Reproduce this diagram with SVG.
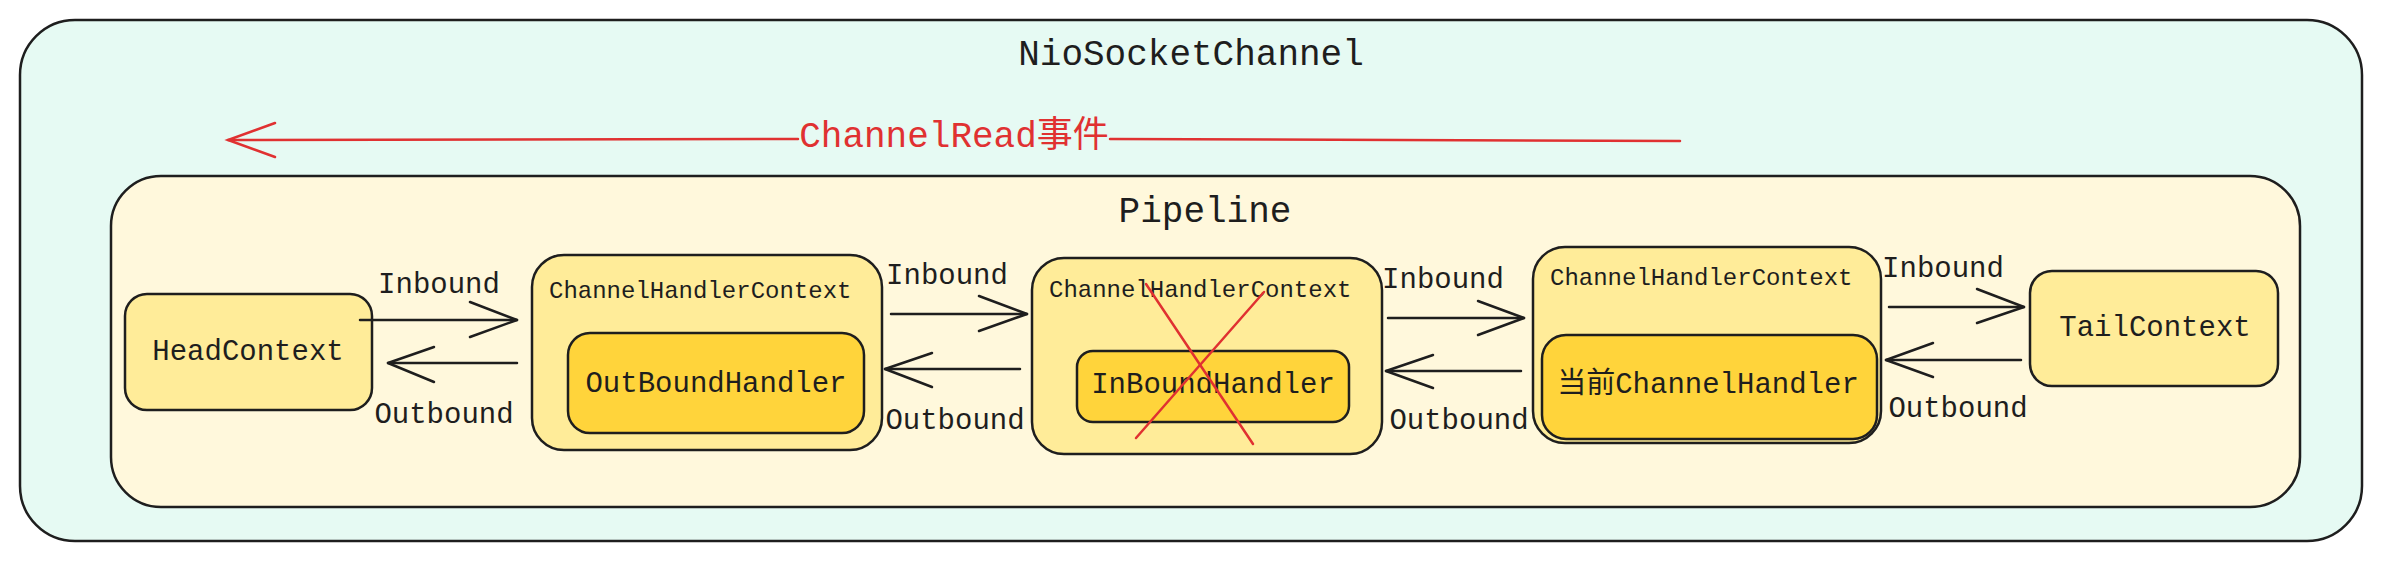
<svg xmlns="http://www.w3.org/2000/svg" width="2382" height="561" viewBox="0 0 2382 561">
<style>
text{font-family:"Liberation Mono","DejaVu Sans Mono","Noto Sans CJK SC",monospace;fill:#1e1e1e}
.box{stroke:#1e1e1e;stroke-width:2.5}
.outer{fill:#e6faf3}
.pipe{fill:#fff8dc}
.ctx{fill:#ffec99}
.inner{fill:#ffd43b}
.title{font-size:36px;text-anchor:middle}
.lbl{font-size:29px;text-anchor:middle}
.ctxl{font-size:24px}
.conn line,.conn polyline{stroke:#1e1e1e;stroke-width:2.5;fill:none;stroke-linecap:round;stroke-linejoin:round}
.red{stroke:#e03131;stroke-width:2.5;fill:none;stroke-linecap:round}
</style>
<g id="niosocketchannel">
<rect class="box outer" x="20" y="20" width="2342" height="521" rx="55"/>
<text class="title" x="1191" y="65">NioSocketChannel</text>
</g>
<g id="channelread">
<line class="red" x1="228" y1="140" x2="798" y2="139"/>
<line class="red" x1="1110" y1="139" x2="1680" y2="141"/>
<polyline class="red" points="275,123 228,140 275,157"/>
<text x="954" y="147" style="font-size:36px;text-anchor:middle;fill:#e03131">ChannelRead事件</text>
</g>
<g id="pipeline">
<rect class="box pipe" x="111" y="176" width="2189" height="331" rx="50"/>
<text class="title" x="1205" y="222">Pipeline</text>
</g>
<g id="headcontext">
<rect class="box ctx" x="125" y="294" width="247" height="116" rx="22"/>
<text class="lbl" x="248" y="360">HeadContext</text>
</g>
<g id="ctx1">
<rect class="box ctx" x="532" y="255" width="350" height="195" rx="32"/>
<text class="ctxl" x="549" y="298">ChannelHandlerContext</text>
<rect class="box inner" x="568" y="333" width="296" height="100" rx="22"/>
<text class="lbl" x="716" y="392">OutBoundHandler</text>
</g>
<g id="ctx2">
<rect class="box ctx" x="1032" y="258" width="350" height="196" rx="32"/>
<text class="ctxl" x="1049" y="297">ChannelHandlerContext</text>
<rect class="box inner" x="1077" y="351" width="272" height="71" rx="16"/>
<text class="lbl" x="1213" y="393">InBoundHandler</text>
<line class="red" x1="1146" y1="284" x2="1253" y2="444"/>
<line class="red" x1="1264" y1="292" x2="1136" y2="438"/>
</g>
<g id="ctx3">
<rect class="box ctx" x="1533" y="247" width="348" height="196" rx="32"/>
<text class="ctxl" x="1550" y="285">ChannelHandlerContext</text>
<rect class="box inner" x="1542" y="335" width="335" height="104" rx="24"/>
<text class="lbl" x="1708" y="393">当前ChannelHandler</text>
</g>
<g id="tailcontext">
<rect class="box ctx" x="2030" y="271" width="248" height="115" rx="22"/>
<text class="lbl" x="2155" y="336">TailContext</text>
</g>
<g class="conn" id="connectors">
<line x1="360" y1="320" x2="517" y2="320"/><polyline points="470,302 517,320 470,337"/>
<line x1="517" y1="363" x2="388" y2="363"/><polyline points="434,347 388,363 434,382"/>
<line x1="891" y1="314" x2="1027" y2="314"/><polyline points="979,296 1027,314 979,331"/>
<line x1="1020" y1="369" x2="885" y2="369"/><polyline points="932,353 885,369 932,387"/>
<line x1="1388" y1="318" x2="1524" y2="318"/><polyline points="1478,301 1524,318 1478,335"/>
<line x1="1521" y1="371" x2="1386" y2="371"/><polyline points="1433,355 1386,371 1433,388"/>
<line x1="1889" y1="307" x2="2024" y2="307"/><polyline points="1977,289 2024,307 1977,323"/>
<line x1="2021" y1="360" x2="1886" y2="360"/><polyline points="1933,343 1886,360 1933,377"/>
<text class="lbl" x="439" y="293">Inbound</text>
<text class="lbl" x="444" y="423">Outbound</text>
<text class="lbl" x="947" y="284">Inbound</text>
<text class="lbl" x="955" y="429">Outbound</text>
<text class="lbl" x="1443" y="288">Inbound</text>
<text class="lbl" x="1459" y="429">Outbound</text>
<text class="lbl" x="1943" y="277">Inbound</text>
<text class="lbl" x="1958" y="417">Outbound</text>
</g>
</svg>
